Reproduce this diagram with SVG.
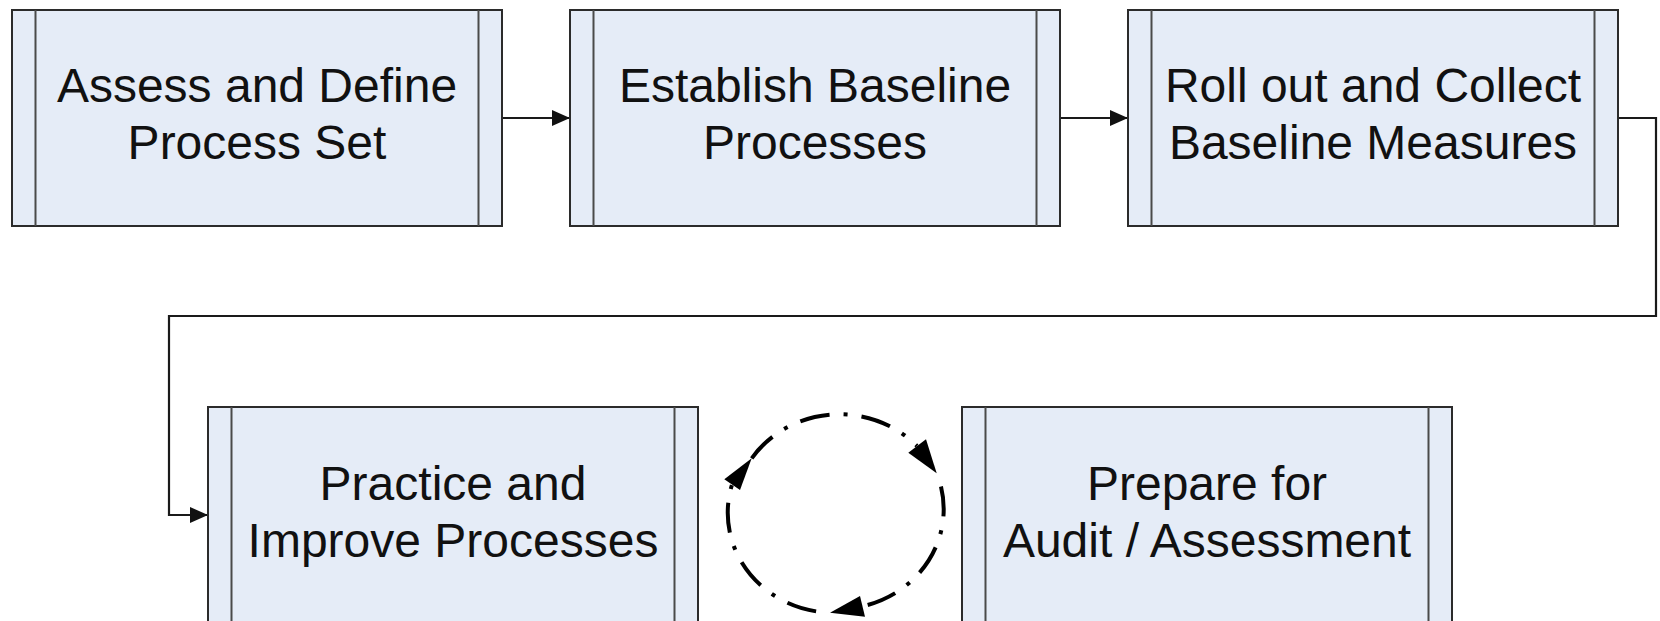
<svg xmlns="http://www.w3.org/2000/svg" width="1660" height="621" viewBox="0 0 1660 621">
  <style>
    .box { fill: #e5ecf7; stroke: #2b2b2b; stroke-width: 2; }
    .bar { stroke: #4a4a4a; stroke-width: 2; fill: none; }
    .lbl { font-family: "Liberation Sans", Arial, sans-serif; font-size: 48px; fill: #111; text-anchor: middle; }
    .conn { fill: none; stroke: #1a1a1a; stroke-width: 2.2; }
    .cyc { fill: none; stroke: #000; stroke-width: 4; stroke-dasharray: 30 14 4 14; }
    .head { fill: #000; }
  </style>
  <defs>
    <marker id="arr" markerUnits="userSpaceOnUse" markerWidth="18" markerHeight="16" refX="18" refY="8" orient="auto">
      <path d="M0,0 L18,8 L0,16 Z" fill="#111"/>
    </marker>
  </defs>
  <rect width="1660" height="621" fill="#fff"/>

  <g id="connectors">
    <path class="conn" d="M502,118 H570" marker-end="url(#arr)"/>
    <path class="conn" d="M1060,118 H1128" marker-end="url(#arr)"/>
    <path class="conn" d="M1618,118 H1656 V316 H169 V515 H208" marker-end="url(#arr)"/>
    <g id="cycle">
      <path class="cyc" d="M751.7,458.3 A106,100 0 0 1 917,446"/>
      <path class="cyc" stroke-dashoffset="48" d="M936.7,473.3 A106,100 0 0 1 862.5,606.3"/>
      <path class="cyc" stroke-dashoffset="48" d="M830,612.7 A106,100 0 0 1 732,484.7"/>
      <polygon class="head" points="936.7,473.3 908.3,452.7 926,439.3"/>
      <polygon class="head" points="830,612.7 860,596 865,616.7"/>
      <polygon class="head" points="751.7,458.3 724.3,479.3 740,490"/>
    </g>
  </g>

  <g id="n1">
    <rect class="box" x="12" y="10" width="490" height="216"/>
    <path class="bar" d="M35.5,10 V226 M478.5,10 V226"/>
    <text class="lbl" x="257" y="102">Assess and Define</text>
    <text class="lbl" x="257" y="159">Process Set</text>
  </g>
  <g id="n2">
    <rect class="box" x="570" y="10" width="490" height="216"/>
    <path class="bar" d="M593.5,10 V226 M1036.5,10 V226"/>
    <text class="lbl" x="815" y="102">Establish Baseline</text>
    <text class="lbl" x="815" y="159">Processes</text>
  </g>
  <g id="n3">
    <rect class="box" x="1128" y="10" width="490" height="216"/>
    <path class="bar" d="M1151.5,10 V226 M1594.5,10 V226"/>
    <text class="lbl" x="1373" y="102">Roll out and Collect</text>
    <text class="lbl" x="1373" y="159">Baseline Measures</text>
  </g>
  <g id="n4">
    <rect class="box" x="208" y="407" width="490" height="218"/>
    <path class="bar" d="M231.5,407 V625 M674.5,407 V625"/>
    <text class="lbl" x="453" y="500">Practice and</text>
    <text class="lbl" x="453" y="557">Improve Processes</text>
  </g>
  <g id="n5">
    <rect class="box" x="962" y="407" width="490" height="218"/>
    <path class="bar" d="M985.5,407 V625 M1428.5,407 V625"/>
    <text class="lbl" x="1207" y="500">Prepare for</text>
    <text class="lbl" x="1207" y="557">Audit / Assessment</text>
  </g>
</svg>
